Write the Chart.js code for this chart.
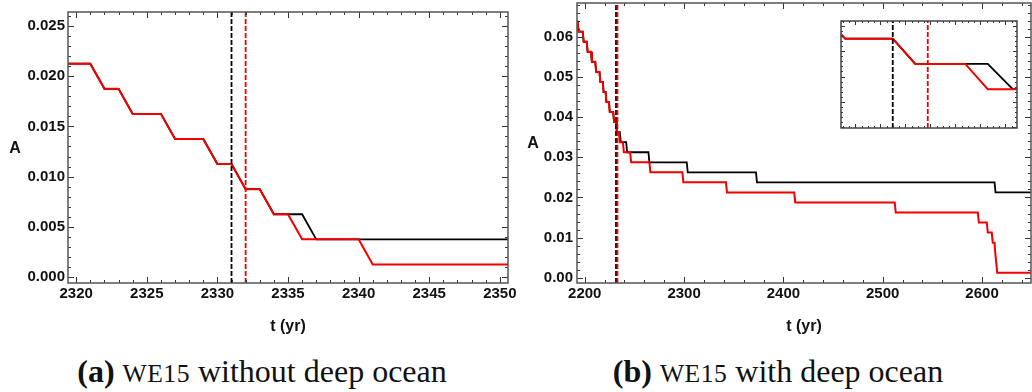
<!DOCTYPE html>
<html><head><meta charset="utf-8">
<script src="https://cdn.jsdelivr.net/npm/chart.js@4.4.1/dist/chart.umd.min.js"></script>
<style>
html,body{margin:0;padding:0;background:#fff;width:1032px;height:392px;overflow:hidden;position:relative;}
canvas{position:absolute;}
.ylab{position:absolute;font:bold 16px "Liberation Sans",Arial,sans-serif;color:#111;transform:translate(-50%,-50%);}
.cap{position:absolute;font-family:"Liberation Serif",serif;font-size:32px;line-height:36px;color:#111;transform:translateX(-50%);white-space:nowrap;top:353px;}
.cap b{font-weight:bold}
.sc{font-size:0.8em;letter-spacing:0.5px}
</style></head><body>
<canvas id="cL" width="518" height="340" style="left:0;top:0"></canvas>
<canvas id="cR" width="512" height="340" style="left:520px;top:0"></canvas>
<canvas id="cI" width="178" height="109" style="left:840px;top:20px;background:#fff"></canvas>
<div class="ylab" style="left:15px;top:148px">A</div>
<div class="ylab" style="left:533px;top:143px">A</div>
<div class="cap" style="left:262px"><b>(a)</b> <span class="sc">WE15</span> without deep ocean</div>
<div class="cap" style="left:778px"><b>(b)</b> <span class="sc">WE15</span> with deep ocean</div>
<script>
// ---------- Panel (a): WE15 without deep ocean ----------
const leftTimeBlack = [2319, 2321, 2322, 2323, 2324, 2326, 2327, 2329, 2330, 2331, 2332, 2333, 2334, 2336, 2337, 2351];
const leftABlack    = [0.02125, 0.02125, 0.01875, 0.01875, 0.01625, 0.01625, 0.01375, 0.01375, 0.01125, 0.01125, 0.00875, 0.00875, 0.00625, 0.00625, 0.00375, 0.00375];
const leftTimeRed   = [2319, 2321, 2322, 2323, 2324, 2326, 2327, 2329, 2330, 2331, 2332, 2333, 2334, 2335, 2336, 2340, 2341, 2351];
const leftARed      = [0.02125, 0.02125, 0.01875, 0.01875, 0.01625, 0.01625, 0.01375, 0.01375, 0.01125, 0.01125, 0.00875, 0.00875, 0.00625, 0.00625, 0.00375, 0.00375, 0.00125, 0.00125];
const leftDashBlack = 2331;
const leftDashRed   = 2332;
const leftXTicks = [2320, 2325, 2330, 2335, 2340, 2345, 2350];
const leftYTicks = [0.000, 0.005, 0.010, 0.015, 0.020, 0.025];

// ---------- Panel (b): WE15 with deep ocean ----------
const rightTimeShared = [2191, 2192, 2192.8, 2193.8, 2198, 2198.9, 2202, 2202.9, 2206.3, 2207.2, 2210.6, 2211.5, 2214.8, 2215.7, 2218.2, 2219, 2221, 2221.8, 2224.4, 2225.2, 2228.6, 2229.6, 2231.5, 2232.4];
const rightAShared    = [0.06625, 0.06375, 0.06375, 0.06125, 0.06125, 0.05875, 0.05875, 0.05625, 0.05625, 0.05375, 0.05375, 0.05125, 0.05125, 0.04875, 0.04875, 0.04625, 0.04625, 0.04375, 0.04375, 0.04125, 0.04125, 0.03875, 0.03875, 0.03625];
const rightTimeBlackTail = [2235.3, 2236.3, 2241.7, 2242.7, 2264.1, 2265.1, 2302.7, 2303.7, 2372.4, 2373.4, 2612.6, 2613.6, 2655];
const rightABlackTail    = [0.03625, 0.03375, 0.03375, 0.03125, 0.03125, 0.02875, 0.02875, 0.02625, 0.02625, 0.02375, 0.02375, 0.02125, 0.02125];
const rightTimeRedTail = [2234.4, 2235.3, 2238.4, 2239.4, 2245.7, 2246.7, 2265.1, 2266.1, 2298.3, 2299.3, 2342.2, 2343.2, 2410.9, 2411.9, 2512.1, 2513.1, 2595.8, 2596.8, 2604.8, 2605.8, 2609.8, 2610.8, 2612.6, 2613.3, 2614.3, 2615.3, 2655];
const rightARedTail    = [0.03625, 0.03375, 0.03375, 0.03125, 0.03125, 0.02875, 0.02875, 0.02625, 0.02625, 0.02375, 0.02375, 0.02125, 0.02125, 0.01875, 0.01875, 0.01625, 0.01625, 0.01375, 0.01375, 0.01125, 0.01125, 0.00875, 0.00875, 0.00625, 0.00375, 0.00125, 0.00125];
const rightDashBlack = 2231.5;
const rightDashRed   = 2232.9;
const rightXTicks = [2200, 2300, 2400, 2500, 2600];
const rightYTicks = [0.00, 0.01, 0.02, 0.03, 0.04, 0.05, 0.06];

const BLACK = '#000000', RED = '#f20000';

function pts(ts, as) { return ts.map((t, i) => ({x: t, y: as[i]})); }

const framePlugin = {
  id: 'frameTicks',
  afterDatasetsDraw(chart, args, o) {
    const {ctx, chartArea: a} = chart;
    const x = chart.scales.x, y = chart.scales.y;
    ctx.save();
    ctx.strokeStyle = o.color || '#444';
    ctx.lineWidth = 1;
    ctx.beginPath();
    const setX = (step, len) => {
      const s = Math.ceil(x.min / step - 1e-6), e = Math.floor(x.max / step + 1e-6);
      for (let k = s; k <= e; k++) {
        const p = Math.round(x.getPixelForValue(k * step)) + 0.5;
        ctx.moveTo(p, a.bottom); ctx.lineTo(p, a.bottom - len);
        ctx.moveTo(p, a.top); ctx.lineTo(p, a.top + len);
      }
    };
    const setY = (step, len) => {
      const s = Math.ceil(y.min / step - 1e-6), e = Math.floor(y.max / step + 1e-6);
      for (let k = s; k <= e; k++) {
        const p = Math.round(y.getPixelForValue(k * step)) + 0.5;
        ctx.moveTo(a.left, p); ctx.lineTo(a.left + len, p);
        ctx.moveTo(a.right, p); ctx.lineTo(a.right - len, p);
      }
    };
    setX(o.xMinor, o.minorLen); setX(o.xMajor, o.majorLen);
    setY(o.yMinor, o.minorLen); setY(o.yMajor, o.majorLen);
    ctx.stroke();
    ctx.lineWidth = o.frameWidth || 1.5;
    ctx.strokeStyle = o.frameColor || '#444';
    ctx.strokeRect(a.left, a.top, a.right - a.left, a.bottom - a.top);
    ctx.restore();
  }
};
Chart.register(framePlugin);

const tickFont = {family: '"Liberation Sans", Arial, sans-serif', size: 15, weight: 'bold'};
const titleFont = {family: '"Liberation Sans", Arial, sans-serif', size: 16, weight: 'bold'};

function dashSet(xv, ymin, ymax, color) {
  return {data: [{x: xv, y: ymin}, {x: xv, y: ymax}], borderColor: color, borderWidth: 1.8,
          borderDash: [5, 2], pointRadius: 0, fill: false};
}
function lineSet(ts, as, color, w) {
  return {data: pts(ts, as), borderColor: color, borderWidth: w, pointRadius: 0, fill: false, tension: 0};
}

function makeChart(id, cfg) {
  return new Chart(document.getElementById(id), {
    type: 'line',
    data: {datasets: cfg.datasets},
    options: {
      responsive: false, animation: false, devicePixelRatio: 1,
      layout: {padding: cfg.padding},
      plugins: {legend: {display: false}, tooltip: {enabled: false}, frameTicks: cfg.frame},
      scales: {
        x: {
          type: 'linear', min: cfg.xmin, max: cfg.xmax, display: cfg.showAxes,
          afterFit: s => { s.height = cfg.xHeight; s.paddingLeft = 0; s.paddingRight = 0; },
          afterBuildTicks: s => { s.ticks = (cfg.xTicks || []).map(v => ({value: v})); },
          ticks: {font: tickFont, color: '#111', padding: 2, autoSkip: false, maxRotation: 0,
                  callback: v => String(v)},
          grid: {display: false, drawTicks: false}, border: {display: false},
          title: {display: cfg.showAxes, text: 't (yr)', font: titleFont, color: '#111', padding: {top: 0, bottom: 0}}
        },
        y: {
          type: 'linear', min: cfg.ymin, max: cfg.ymax, display: cfg.showAxes,
          afterFit: s => { s.width = cfg.yWidth; s.paddingTop = 0; s.paddingBottom = 0; },
          afterBuildTicks: s => { s.ticks = (cfg.yTicks || []).map(v => ({value: v})); },
          ticks: {font: tickFont, color: '#111', padding: cfg.yPad, callback: v => Number(v).toFixed(cfg.yDec)},
          grid: {display: false, drawTicks: false}, border: {display: false}
        }
      }
    }
  });
}

// Panel (a)
const LYMIN = -0.0006, LYMAX = 0.0264;
makeChart('cL', {
  datasets: [
    dashSet(leftDashBlack, LYMIN, LYMAX, BLACK),
    dashSet(leftDashRed, LYMIN, LYMAX, RED),
    lineSet(leftTimeRed, leftARed, RED, 2),
    lineSet(leftTimeBlack, leftABlack, BLACK, 1.8)
  ],
  padding: {left: 0, right: 10, top: 12, bottom: 4},
  xmin: 2319.42, xmax: 2350.58, ymin: LYMIN, ymax: LYMAX,
  xTicks: leftXTicks, yTicks: leftYTicks, yDec: 3, yWidth: 68, xHeight: 53, yPad: 3, showAxes: true,
  frame: {xMajor: 5, xMinor: 1, yMajor: 0.005, yMinor: 0.001, majorLen: 6, minorLen: 3, color: '#333', frameColor: '#555', frameWidth: 1.5}
});

// Panel (b)
const RYMIN = -0.0013, RYMAX = 0.0684;
const rightTimeBlack = rightTimeShared.concat(rightTimeBlackTail);
const rightABlack = rightAShared.concat(rightABlackTail);
const rightTimeRed = rightTimeShared.concat(rightTimeRedTail);
const rightARed = rightAShared.concat(rightARedTail);
makeChart('cR', {
  datasets: [
    dashSet(rightDashRed, RYMIN, RYMAX, RED),
    dashSet(rightDashBlack, RYMIN, RYMAX, BLACK),
    lineSet(rightTimeRed, rightARed, RED, 2),
    lineSet(rightTimeBlack, rightABlack, BLACK, 1.8)
  ],
  padding: {left: 0, right: 1, top: 3, bottom: 4},
  xmin: 2192.2, xmax: 2649.3, ymin: RYMIN, ymax: RYMAX,
  xTicks: rightXTicks, yTicks: rightYTicks, yDec: 2, yWidth: 57, xHeight: 53, yPad: 4, showAxes: true,
  frame: {xMajor: 100, xMinor: 20, yMajor: 0.01, yMinor: 0.002, majorLen: 6, minorLen: 3, color: '#333', frameColor: '#555', frameWidth: 1.5}
});

// Inset of panel (b)
const IYMIN = 0.0299, IYMAX = 0.0405;
makeChart('cI', {
  datasets: [
    dashSet(rightDashRed, IYMIN, IYMAX, RED),
    dashSet(rightDashBlack, IYMIN, IYMAX, BLACK),
    lineSet(rightTimeRed, rightARed, RED, 2),
    lineSet(rightTimeBlack, rightABlack, BLACK, 1.8)
  ],
  padding: {left: 1, right: 1, top: 1, bottom: 1},
  xmin: 2229.43, xmax: 2236.47, ymin: IYMIN, ymax: IYMAX,
  xTicks: [], yTicks: [], yDec: 3, yWidth: 0, xHeight: 0, yPad: 0, showAxes: false,
  frame: {xMajor: 1, xMinor: 0.25, yMajor: 0.0025, yMinor: 0.0005, majorLen: 4, minorLen: 2, color: '#333', frameColor: '#444', frameWidth: 1.5}
});
</script>
</body></html>
